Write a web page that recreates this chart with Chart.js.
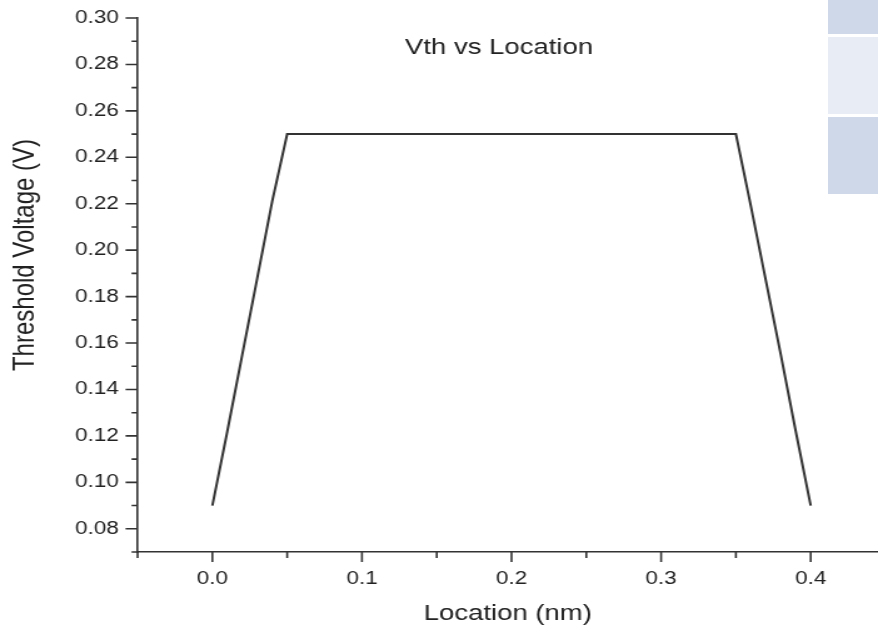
<!DOCTYPE html>
<html>
<head>
<meta charset="utf-8">
<script src="https://cdn.jsdelivr.net/npm/chart.js@4.4.1/dist/chart.umd.min.js"></script>
<style>
  html, body { margin: 0; padding: 0; background: #fff; overflow: hidden; }
  #wrap { position: relative; width: 878px; height: 627px; }
  #chart { position: absolute; left: 0; top: 0; width: 878px; height: 627px; }
  .tab { position: absolute; left: 828px; width: 50px; }
</style>
</head>
<body>
<div id="wrap">
  <canvas id="chart" width="702" height="627" style="width:878px;height:627px"></canvas>
  <div class="tab" style="top:0;height:34px;background:#cfd8e8"></div>
  <div class="tab" style="top:37px;height:77px;background:#e8ecf5"></div>
  <div class="tab" style="top:117px;height:77px;background:#cfd8e8"></div>
</div>
<script>
// Vth along the channel
const locations = [0.00, 0.01, 0.02, 0.03, 0.04, 0.05, 0.35, 0.36, 0.37, 0.38, 0.39, 0.40];
const vth = [0.090, 0.122, 0.155, 0.188, 0.221, 0.250, 0.250, 0.219, 0.187, 0.155, 0.122, 0.090];

const xMajor = [0.0, 0.1, 0.2, 0.3, 0.4];
const xMinor = [-0.05, 0.05, 0.15, 0.25, 0.35];
const yMajor = [0.08, 0.10, 0.12, 0.14, 0.16, 0.18, 0.20, 0.22, 0.24, 0.26, 0.28, 0.30];
const yMinor = [0.07, 0.09, 0.11, 0.13, 0.15, 0.17, 0.19, 0.21, 0.23, 0.25, 0.27, 0.29];

// the picture is wider than it is tall, so the canvas is drawn narrow and stretched
const FONT = "'Liberation Sans', Arial, sans-serif";
const INK = "#333";
const TEXT = "#222";

const decorations = {
  id: "decorations",
  afterDraw(chart) {
    const { ctx, scales: { x, y } } = chart;
    ctx.save();
    ctx.strokeStyle = INK;
    ctx.lineWidth = 1.6;
    ctx.beginPath();
    xMajor.concat(xMinor).forEach((v) => {
      const px = x.getPixelForValue(v);
      const len = xMajor.includes(v) ? 10 : 6;
      ctx.moveTo(px, x.top);
      ctx.lineTo(px, x.top + len);
    });
    yMajor.concat(yMinor).forEach((v) => {
      const py = y.getPixelForValue(v);
      const len = yMajor.includes(v) ? 9.6 : 4.8;
      ctx.moveTo(y.right, py);
      ctx.lineTo(y.right - len, py);
    });
    ctx.stroke();

    ctx.fillStyle = TEXT;
    ctx.textAlign = "center";
    ctx.textBaseline = "middle";
    ctx.font = "22px " + FONT;
    ctx.fillText("Vth vs Location", 399, 48);

    // y title sits a bit above the axis middle
    ctx.translate(20, 255);
    ctx.rotate(-Math.PI / 2);
    ctx.font = "24px " + FONT;
    ctx.fillText("Threshold Voltage (V)", 0, 0);
    ctx.restore();
  },
};

new Chart(document.getElementById("chart"), {
  type: "line",
  data: {
    datasets: [{
      data: locations.map((loc, i) => ({ x: loc, y: vth[i] })),
      borderColor: INK,
      borderWidth: 2,
      pointRadius: 0,
      tension: 0,
    }],
  },
  options: {
    responsive: false,
    animation: false,
    layout: { padding: { top: 18, right: 0, left: 0, bottom: 0 } },
    plugins: { legend: { display: false }, tooltip: { enabled: false } },
    scales: {
      x: {
        type: "linear",
        min: -0.05,
        max: 0.445,
        afterBuildTicks: (s) => { s.ticks = xMajor.map((v) => ({ value: v })); },
        afterFit: (s) => { s.height = 75; s.paddingRight = 0; },
        grid: { drawOnChartArea: false, drawTicks: false },
        border: { color: INK, width: 1.6 },
        ticks: { padding: 16, color: TEXT, font: { family: FONT, size: 18 }, callback: (v) => v.toFixed(1) },
        title: { display: true, text: "Location (nm)", color: TEXT, font: { family: FONT, size: 22 }, padding: 0 },
      },
      y: {
        min: 0.07,
        max: 0.30,
        afterBuildTicks: (s) => { s.ticks = yMajor.map((v) => ({ value: v })); },
        afterFit: (s) => { s.width = 110; s.paddingTop = 0; s.paddingBottom = 0; },
        grid: { drawOnChartArea: false, drawTicks: false },
        border: { color: INK, width: 1.6 },
        ticks: { padding: 15, color: TEXT, font: { family: FONT, size: 18 }, callback: (v) => v.toFixed(2) },
        title: { display: false },
      },
    },
  },
  plugins: [decorations],
});
</script>
</body>
</html>
